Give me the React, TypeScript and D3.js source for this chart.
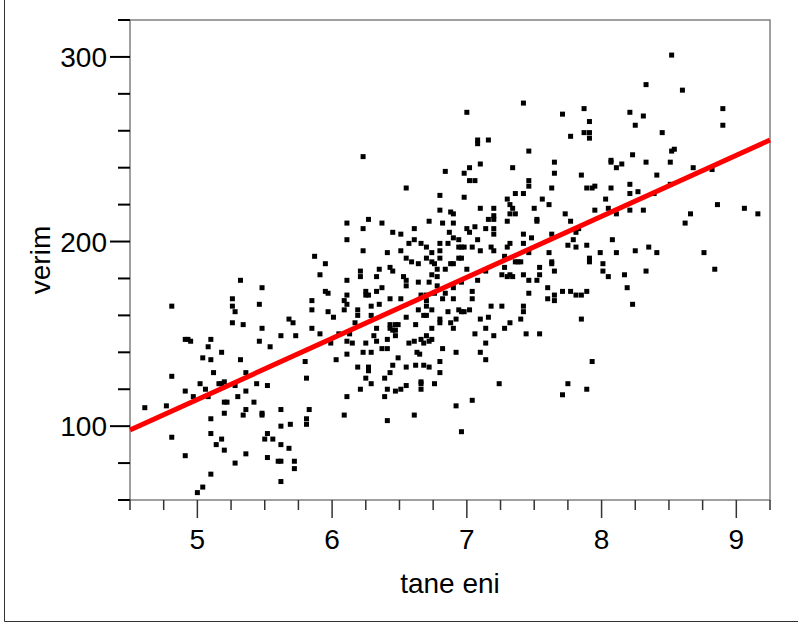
import React from 'react';
import * as d3 from 'd3';

// x: tane eni, y: verim
const taneEni = [
  6.23,6.84,6.55,6.80,7.42,7.00,7.71,7.87,7.91,7.77,
  7.87,7.91,7.91,7.08,7.08,7.16,7.46,8.07,8.07,7.65,
  7.02,7.10,7.34,6.98,7.65,7.85,7.02,7.06,7.46,7.46,
  7.63,7.89,7.93,7.95,8.07,7.36,7.42,6.98,7.30,7.56,
  8.03,8.52,8.33,8.60,8.21,8.31,8.90,8.90,8.25,8.45,
  8.54,8.52,8.23,8.11,8.15,8.33,8.51,8.68,8.82,8.41,
  8.21,8.51,8.21,8.27,8.39,8.11,8.21,8.31,8.66,8.62,
  8.86,9.06,9.16,8.08,8.11,8.25,8.35,8.41,8.76,8.17,
  8.33,8.84,8.19,8.23,5.32,5.48,5.26,5.26,5.28,5.46,
  4.81,5.26,5.34,5.48,5.68,5.71,5.62,5.46,5.54,4.91,
  4.93,4.95,5.10,5.08,5.18,5.04,5.10,5.32,4.81,5.12,
  5.36,5.02,5.16,5.18,5.20,5.06,4.91,4.97,5.08,5.28,
  5.44,5.52,5.36,5.30,4.61,4.77,5.20,5.22,5.42,5.20,
  5.36,5.34,5.48,5.48,5.62,5.10,5.62,5.69,4.81,5.10,
  5.18,5.14,5.20,5.52,5.50,5.56,5.62,5.68,5.36,4.91,
  5.52,5.60,5.62,5.28,5.10,5.62,5.04,5.00,5.72,5.72,
  5.81,5.81,5.83,5.81,5.80,6.03,6.11,6.23,6.29,6.49,
  6.63,6.65,6.19,6.27,6.27,6.45,6.55,6.62,6.68,6.72,
  6.80,6.80,6.43,6.25,6.39,6.29,6.66,6.66,6.66,6.76,
  6.21,6.41,6.51,6.55,6.47,6.39,6.11,6.09,6.41,6.61,
  6.92,7.10,7.14,7.93,7.24,7.75,7.89,7.71,7.04,6.92,
  6.96,6.80,6.88,6.27,6.72,6.11,6.37,6.82,6.23,6.61,
  6.45,6.51,6.87,6.11,6.61,6.57,6.66,6.80,6.86,6.23,
  6.51,6.70,6.80,6.74,6.41,5.87,6.55,6.70,6.59,6.64,
  6.74,6.80,6.76,6.88,5.95,6.43,6.35,6.21,6.78,6.84,
  6.45,5.91,6.74,6.21,6.33,6.53,6.11,6.55,6.78,6.55,
  6.64,6.72,6.78,6.37,5.95,5.97,6.25,6.33,6.25,6.27,
  6.11,6.43,6.51,6.66,6.70,6.76,6.84,6.82,5.85,6.09,
  6.11,6.35,6.29,6.70,6.70,5.85,6.09,6.19,6.64,6.74,
  5.97,6.19,6.01,6.29,6.55,6.68,6.70,6.86,6.17,6.80,
  6.80,6.88,6.43,6.47,6.49,6.62,5.85,6.43,6.45,6.47,
  6.33,6.74,5.73,5.91,6.05,6.13,6.31,6.41,6.47,6.66,
  6.74,6.70,5.99,6.11,6.15,6.25,6.33,6.57,6.61,6.68,
  6.72,6.82,6.37,6.41,7.10,7.20,7.32,7.34,7.50,7.61,
  7.73,7.95,8.05,6.90,7.32,7.36,7.16,7.20,7.20,7.52,
  7.52,7.30,7.77,7.06,7.00,7.02,7.14,7.20,7.20,6.90,
  7.63,7.42,7.48,7.81,7.83,7.79,6.94,7.08,6.90,7.42,
  7.32,7.75,7.89,7.81,6.94,6.96,6.98,7.04,7.18,7.30,
  7.10,7.20,7.46,7.61,7.99,6.94,6.96,7.28,7.36,7.38,
  7.40,7.63,7.63,7.91,7.91,6.90,7.28,7.54,8.01,7.00,
  7.14,7.65,8.01,8.05,7.26,7.30,7.32,7.34,7.42,7.54,
  7.52,7.46,6.96,7.08,6.90,7.04,7.46,7.60,7.71,7.77,
  7.89,7.81,7.85,7.65,7.65,7.60,7.04,6.90,7.18,7.26,
  7.42,7.42,6.94,6.96,6.98,7.02,6.92,7.16,7.10,7.32,
  7.28,7.40,7.85,6.90,7.14,7.06,7.44,7.54,7.20,7.14,
];

const verim = [
  246,238,229,225,275,270,269,272,265,257,
  259,259,256,255,253,255,249,244,243,243,
  240,242,240,237,237,236,233,233,233,230,
  229,229,229,230,229,226,226,224,223,223,
  223,301,285,282,270,268,272,263,263,259,
  250,249,247,240,242,243,243,240,239,236,
  231,231,226,227,226,215,217,217,215,210,
  220,218,215,201,194,195,197,194,194,182,
  184,185,175,166,179,175,169,165,162,166,
  165,156,155,153,158,156,149,146,143,147,
  147,146,147,143,140,137,136,136,127,129,
  129,123,123,123,124,120,119,116,116,122,
  123,122,119,116,110,111,113,113,113,107,
  109,106,107,106,109,104,100,101,94,96,
  93,90,87,96,93,93,90,88,85,84,
  83,81,81,80,74,70,67,64,81,77,
  104,101,109,126,135,136,139,140,140,137,
  140,139,132,132,130,133,132,133,133,132,
  135,129,129,126,126,123,124,123,120,123,
  120,120,120,122,119,116,116,106,103,106,
  140,140,136,135,123,123,120,117,114,111,
  97,217,216,212,211,210,210,210,207,207,
  205,204,205,201,201,199,199,199,199,195,
  195,197,195,194,194,192,191,191,189,188,
  189,191,188,188,188,186,185,184,185,185,
  184,182,182,181,181,181,179,179,181,176,
  178,178,176,175,173,172,173,173,171,171,
  171,169,169,171,171,172,172,169,168,168,
  166,166,165,168,165,163,163,163,163,163,
  162,160,159,160,159,160,160,162,156,158,
  156,156,155,155,155,155,153,153,152,152,
  153,153,149,150,150,150,149,147,149,147,
  147,149,145,146,145,145,146,145,146,145,
  146,142,142,142,218,218,220,218,218,220,
  215,217,218,215,215,215,212,212,214,212,
  211,211,211,208,207,205,207,207,204,210,
  204,204,202,205,207,201,201,201,202,199,
  199,198,198,197,197,197,197,197,197,197,
  195,195,194,194,194,191,191,192,189,189,
  189,189,188,191,189,188,186,186,188,185,
  184,184,184,181,182,181,182,181,182,182,
  179,179,178,179,175,173,172,175,173,173,
  173,171,171,171,168,169,169,169,165,165,
  165,162,163,162,162,163,158,159,158,156,
  153,158,158,153,153,150,150,150,149,145,
];

const xTickValues = [5, 6, 7, 8, 9];
const yTickValues = [100, 200, 300];
const fitIntercept = -50.9;
const fitSlope = 33.07;
const xTitle = 'tane eni';
const yTitle = 'verim';

export default function App() {
  const W = 798, H = 626;
  const x = d3.scaleLinear().domain([4.5, 9.25]).range([130, 770]);
  const y = d3.scaleLinear().domain([60, 320]).range([500, 20]);
  const xMinor = d3.range(0, 20).map(i => 4.5 + i * 0.25);
  const yMinor = d3.range(0, 14).map(i => 60 + i * 20);
  const font = '"Liberation Sans", Arial, sans-serif';
  const [x0, x1] = x.domain();
  const points = taneEni.map((v, i) => [v, verim[i]]);

  return (
    <svg width={W} height={H} style={{ position: 'absolute', left: 0, top: 0, background: '#fff' }}>
      <rect x={0} y={0} width={W} height={H} fill="#fff" />
      {/* outer figure border */}
      <line x1={4.5} y1={0} x2={4.5} y2={621.5} stroke="#333" strokeWidth={1} />
      <line x1={4.5} y1={621.5} x2={W} y2={621.5} stroke="#333" strokeWidth={1} />

      {/* plot frame */}
      <rect x={130} y={20} width={640} height={480} fill="none" stroke="#808080" strokeWidth={1.5} />

      {/* y ticks */}
      {yMinor.map(v => (
        <line key={'ym' + v} x1={yTickValues.includes(v) ? 110 : 118} x2={130} y1={y(v)} y2={y(v)} stroke="#000" strokeWidth={2} />
      ))}
      {yTickValues.map(v => (
        <text key={'yl' + v} x={107} y={y(v) + 10} textAnchor="end" fontFamily={font} fontSize={28} fill="#000">{v}</text>
      ))}

      {/* x ticks */}
      {xMinor.map(v => (
        <line key={'xm' + v} x1={x(v)} x2={x(v)} y1={500} y2={xTickValues.includes(v) ? 518 : 510} stroke="#333" strokeWidth={1.5} />
      ))}
      {xTickValues.map(v => (
        <text key={'xl' + v} x={x(v)} y={549} textAnchor="middle" fontFamily={font} fontSize={28} fill="#000">{v}</text>
      ))}

      {/* axis titles */}
      <text x={450} y={593} textAnchor="middle" fontFamily={font} fontSize={28} fill="#000">{xTitle}</text>
      <text transform={`translate(50,260) rotate(-90)`} textAnchor="middle" fontFamily={font} fontSize={28} fill="#000">{yTitle}</text>

      {/* points */}
      {points.map(([a, b], i) => (
        <rect key={i} x={x(a) - 2.5} y={y(b) - 2.5} width={5} height={5} fill="#000" />
      ))}

      {/* regression line */}
      <line x1={x(x0)} y1={y(fitIntercept + fitSlope * x0)} x2={x(x1)} y2={y(fitIntercept + fitSlope * x1)} stroke="#ff0000" strokeWidth={5} />
    </svg>
  );
}
